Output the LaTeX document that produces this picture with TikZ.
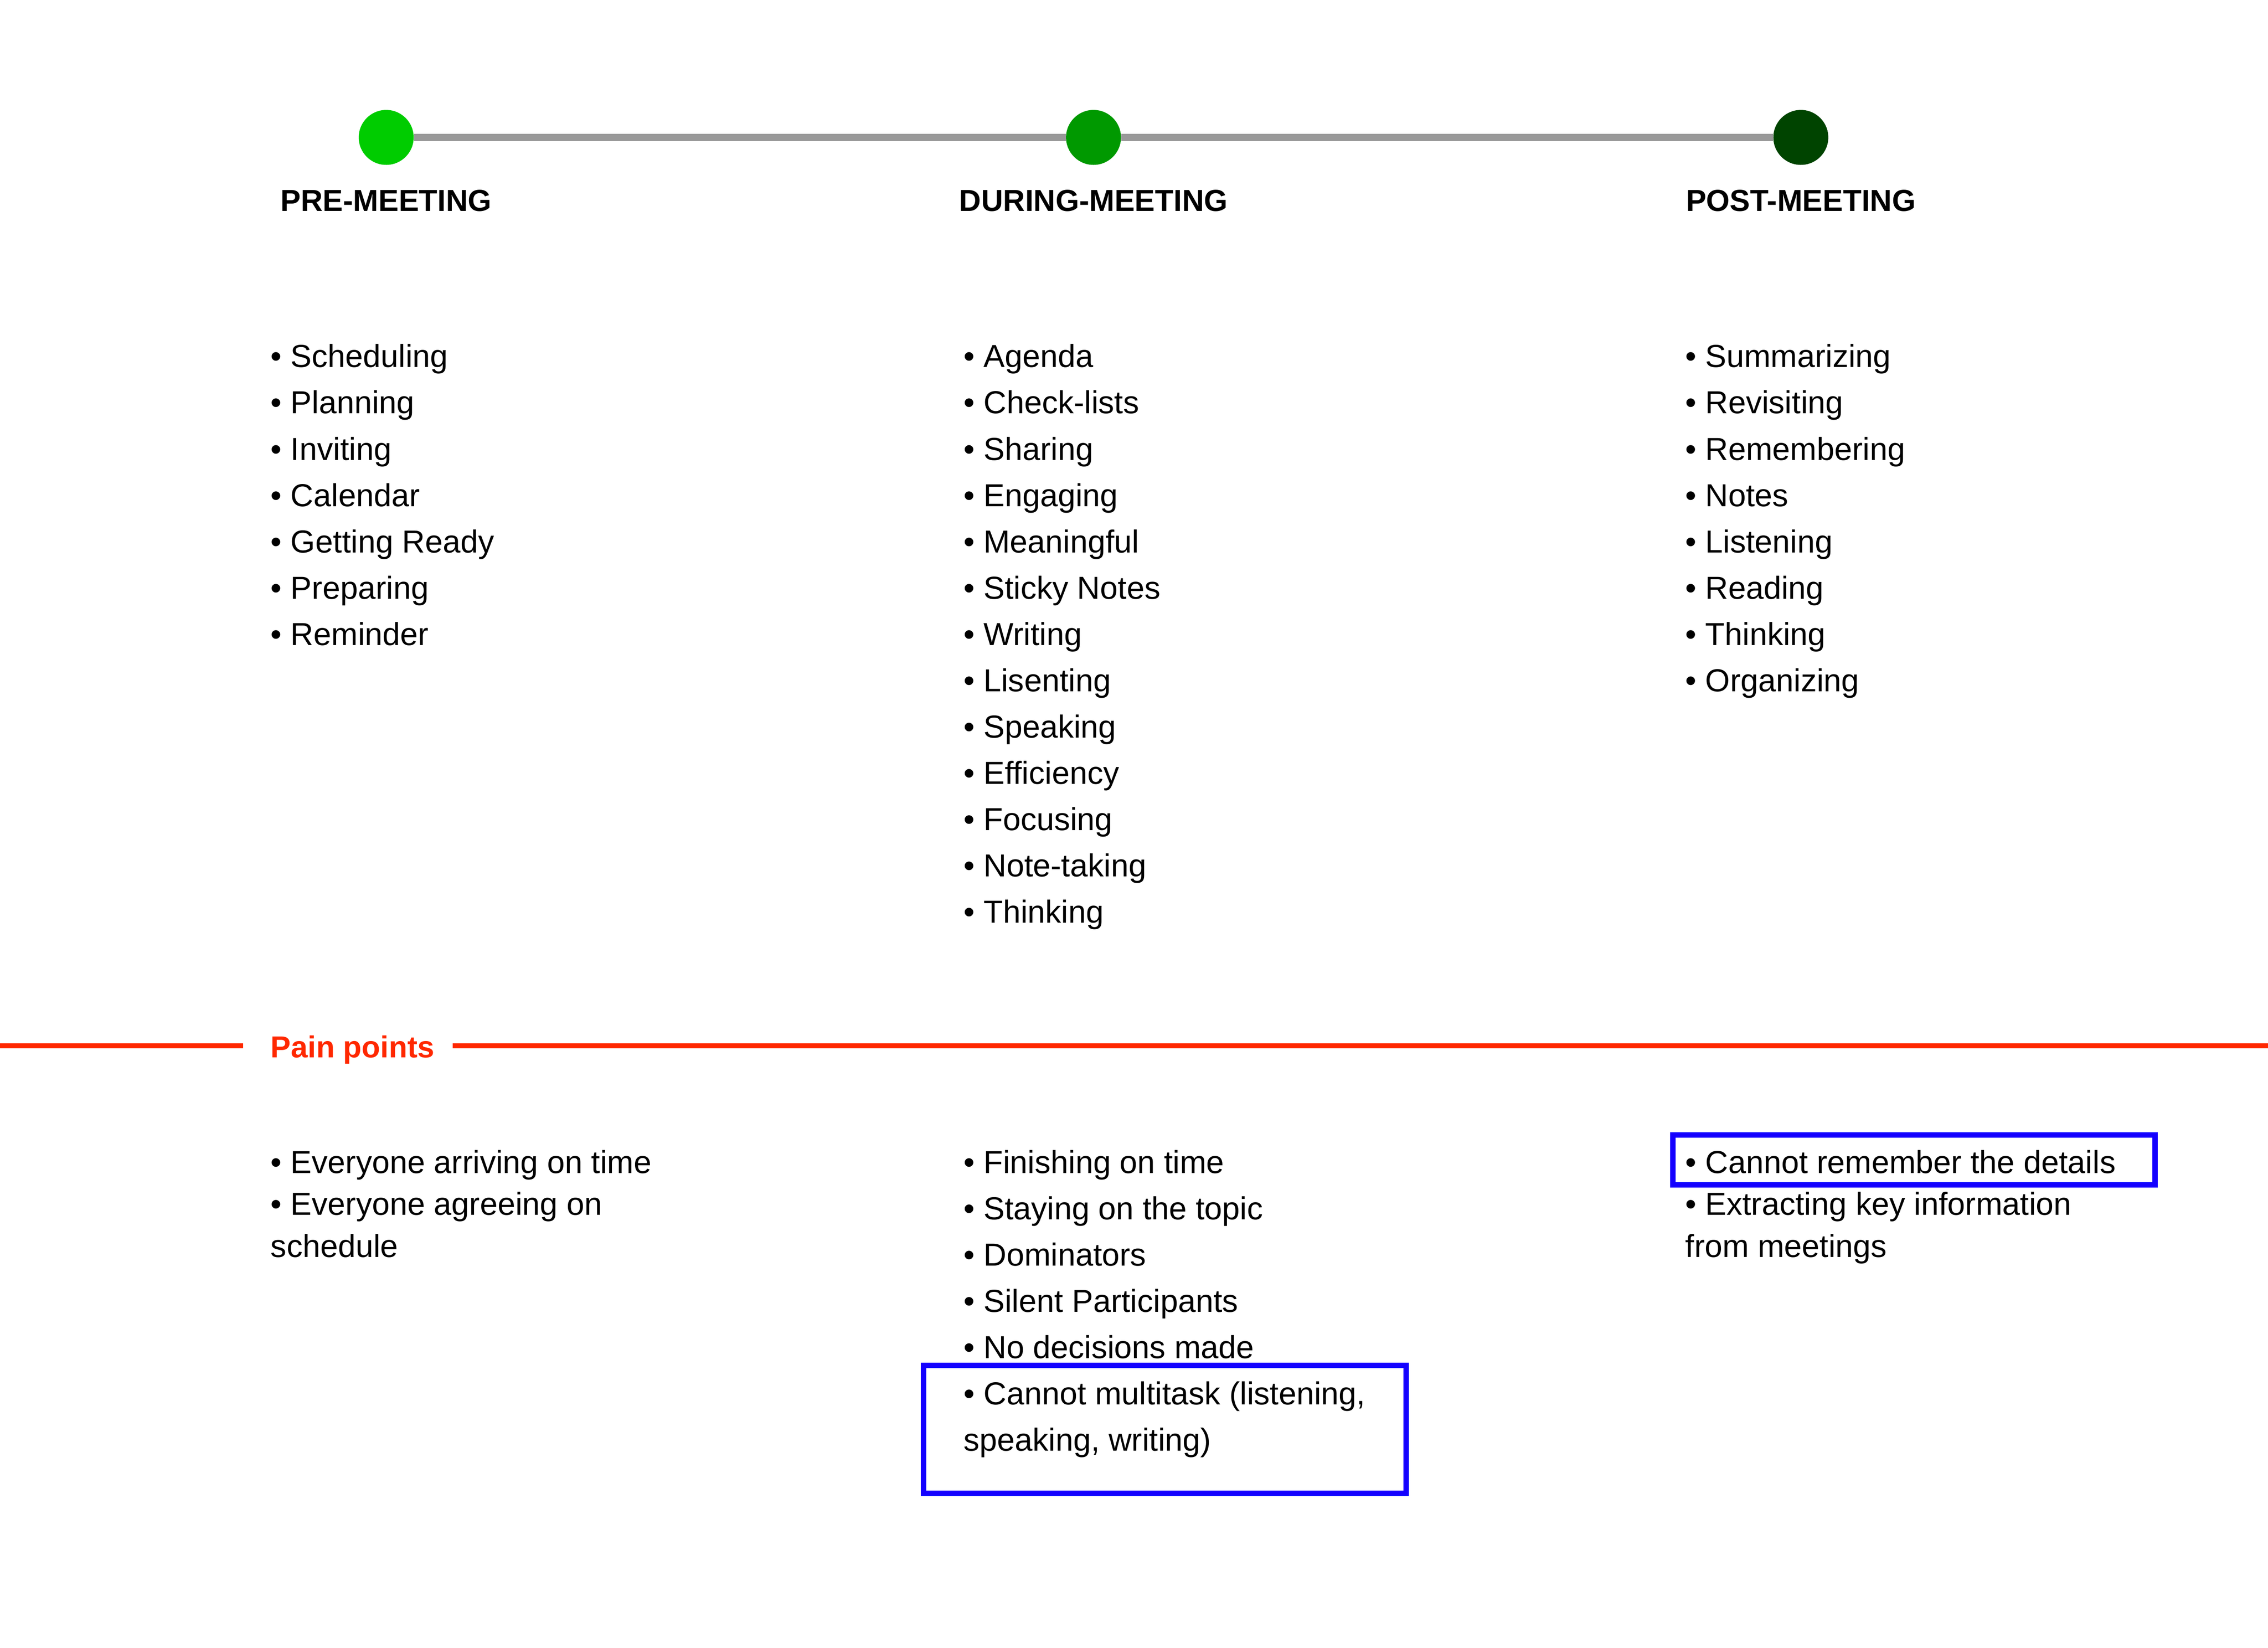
\documentclass[tikz,border=0pt]{standalone}
\usepackage{fontspec}
\setmainfont{Liberation Sans}
\definecolor{lineGray}{RGB}{153,153,153}
\definecolor{greenA}{RGB}{0,204,0}
\definecolor{greenB}{RGB}{0,153,0}
\definecolor{greenC}{RGB}{0,68,0}
\definecolor{painRed}{RGB}{255,40,0}
\definecolor{boxBlue}{RGB}{20,0,255}
\begin{document}
\begin{tikzpicture}[x=1pt,y=-1pt,
  item/.style={anchor=base west,inner sep=0pt,font=\fontsize{22}{26}\selectfont},
  head/.style={anchor=base,inner sep=0pt,font=\fontsize{21}{25}\selectfont\bfseries},
  dot/.style={circle,minimum size=38pt,inner sep=0pt},
]
\useasboundingbox[fill=white] (0,0) rectangle (1568,1139);
% timeline
\node[dot,fill=greenA] (c1) at (267,95) {};
\node[dot,fill=greenB] (c2) at (756,95) {};
\node[dot,fill=greenC] (c3) at (1245,95) {};
\draw[lineGray,line width=5pt] (c1.east) -- (c2.west);
\draw[lineGray,line width=5pt] (c2.east) -- (c3.west);
\node[head] (h1) at (267,146) {PRE-MEETING};
\node[head] (h2) at (756,146) {DURING-MEETING};
\node[head] (h3) at (1245,146) {POST-MEETING};
% pre
\foreach \t [count=\i] in {Scheduling,Planning,Inviting,Calendar,Getting Ready,Preparing,Reminder}
  \node[item] (p\i) at (187,{254+32*(\i-1)}) {• \t};
% during
\foreach \t [count=\i] in {Agenda,Check-lists,Sharing,Engaging,Meaningful,Sticky Notes,Writing,Lisenting,Speaking,Efficiency,Focusing,Note-taking,Thinking}
  \node[item] (d\i) at (666,{254+32*(\i-1)}) {• \t};
% post
\foreach \t [count=\i] in {Summarizing,Revisiting,Remembering,Notes,Listening,Reading,Thinking,Organizing}
  \node[item] (q\i) at (1165,{254+32*(\i-1)}) {• \t};
% pain points divider
\node[anchor=base west,inner sep=0pt,text=painRed,font=\fontsize{21}{25}\selectfont\bfseries] (pain) at (187,731) {Pain points};
\coordinate (rl) at (0,723);
\coordinate (rr) at (1568,723);
\draw[painRed,line width=3.3pt] (rl) -- (168,723);
\draw[painRed,line width=3.3pt] (313,723) -- (rr);
% pre pains
\node[item] (pp1) at (187,811) {• Everyone arriving on time};
\node[item] (pp2) at (187,840) {• Everyone agreeing on};
\node[item] (pp3) at (187,869) {schedule};
% during pains
\node[item] (dp1) at (666,811) {• Finishing on time};
\node[item] (dp2) at (666,843) {• Staying on the topic};
\node[item] (dp3) at (666,875) {• Dominators};
\node[item] (dp4) at (666,907) {• Silent Participants};
\node[item] (dp5) at (666,939) {• No decisions made};
\node[item] (dp6) at (666,971) {• Cannot multitask (listening,};
\node[item] (dp7) at (666,1003) {speaking, writing)};
% post pains
\node[item] (qp1) at (1165,811) {• Cannot remember the details};
\node[item] (qp2) at (1165,840) {• Extracting key information};
\node[item] (qp3) at (1165,869) {from meetings};
% highlight boxes
\draw[boxBlue,line width=3.75pt] (638.5,944) rectangle (972,1032.5);
\draw[boxBlue,line width=3.75pt] (1156.5,784.5) rectangle (1490,819);
\end{tikzpicture}
\end{document}
